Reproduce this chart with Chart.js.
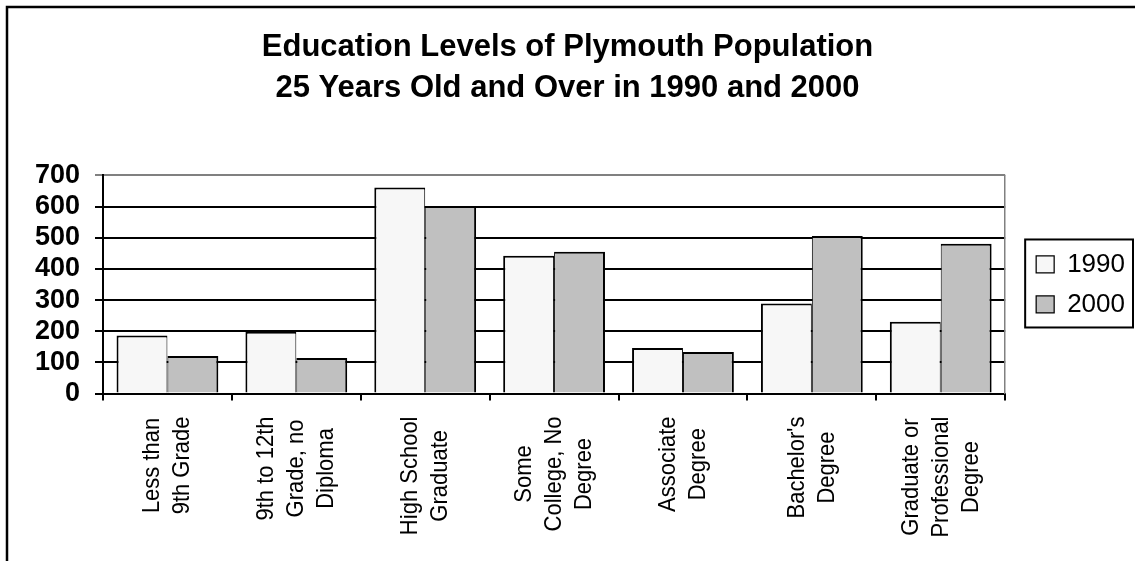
<!DOCTYPE html>
<html lang="en">
<head>
    <meta charset="UTF-8">
    <title>Education Levels of Plymouth Population</title>
    <script src="https://cdn.jsdelivr.net/npm/chart.js"></script>
    <style>
        body { margin: 0; background: #fff; }
        canvas { display: block; }
    </style>
</head>
<body>
    <canvas id="eduChart" width="1135" height="561"></canvas>

    <script>
        // values
        let categories = [
            ["Less than", "9th Grade"],
            ["9th to 12th", "Grade, no", "Diploma"],
            ["High School", "Graduate"],
            ["Some", "College, No", "Degree"],
            ["Associate", "Degree"],
            ["Bachelor's", "Degree"],
            ["Graduate or", "Professional", "Degree"]
        ];
        let pop1990 = [186, 198, 661, 442, 146, 289, 230];
        let pop2000 = [120, 114, 602, 455, 133, 506, 481];
        let seriesNames = ["1990", "2000"];
        let titleLines = ["Education Levels of Plymouth Population", "25 Years Old and Over in 1990 and 2000"];

        const FONT = "'Liberation Sans', Arial, sans-serif";

        // outer frame (left + top edge only, like the original)
        const framePlugin = {
            id: "frame",
            afterDraw(chart) {
                let ctx = chart.ctx;
                ctx.save();
                ctx.strokeStyle = "#000";
                ctx.lineWidth = 2.5;
                ctx.beginPath();
                ctx.moveTo(7, chart.height + 5);
                ctx.lineTo(7, 7);
                ctx.lineTo(chart.width + 5, 7);
                ctx.stroke();
                ctx.restore();
            }
        };

        // box round the legend
        const legendBoxPlugin = {
            id: "legendBox",
            afterDraw(chart) {
                let boxes = chart.legend.legendHitBoxes;
                if (!boxes || !boxes.length) return;
                let left = Math.min(...boxes.map(b => b.left)) - 11;
                let top = Math.min(...boxes.map(b => b.top)) - 12;
                let right = Math.min(Math.max(...boxes.map(b => b.left + b.width)) + 8, chart.width - 2);
                let bottom = Math.max(...boxes.map(b => b.top + b.height)) + 10;
                let ctx = chart.ctx;
                ctx.save();
                ctx.strokeStyle = "#000";
                ctx.lineWidth = 2;
                ctx.strokeRect(left, top, right - left, bottom - top);
                ctx.restore();
            }
        };

        // category labels: rotated, lines centred on each other
        const catLabelPlugin = {
            id: "catLabels",
            afterDraw(chart) {
                let xs = chart.scales.x;
                let ctx = chart.ctx;
                ctx.save();
                ctx.font = "22px " + FONT;
                ctx.fillStyle = "#000";
                ctx.textAlign = "center";
                ctx.textBaseline = "middle";
                chart.data.labels.forEach((lines, i) => {
                    let x = xs.getPixelForValue(i);
                    let maxW = Math.max(...lines.map(l => ctx.measureText(l).width));
                    let cy = xs.top + 23 + maxW / 2;
                    lines.forEach((line, j) => {
                        let off = (j - (lines.length - 1) / 2) * 30;
                        ctx.save();
                        ctx.translate(x + off, cy);
                        ctx.rotate(-Math.PI / 2);
                        ctx.scale(1, 1.12);
                        ctx.fillText(line, 0, 0);
                        ctx.restore();
                    });
                });
                ctx.restore();
            }
        };

        let ctx = document.getElementById("eduChart").getContext("2d");
        window.eduChart = new Chart(ctx, {
            type: "bar",
            data: {
                labels: categories,
                datasets: [{
                    label: seriesNames[0],
                    data: pop1990,
                    backgroundColor: "#f7f7f7",
                    borderColor: "#000",
                    borderWidth: { top: 2, left: 2, right: 1, bottom: 0 },
                    borderSkipped: false
                }, {
                    label: seriesNames[1],
                    data: pop2000,
                    backgroundColor: "#c0c0c0",
                    borderColor: "#000",
                    borderWidth: { top: 2, left: 1, right: 2, bottom: 0 },
                    borderSkipped: false
                }]
            },
            options: {
                responsive: false,
                animation: false,
                devicePixelRatio: 1,
                categoryPercentage: 0.79,
                barPercentage: 1.0,
                layout: { padding: 0 },
                plugins: {
                    title: {
                        display: true,
                        text: titleLines,
                        color: "#000",
                        font: { family: FONT, size: 31, weight: "bold", lineHeight: 1.33 },
                        padding: { top: 27, bottom: 66 }
                    },
                    legend: {
                        position: "right",
                        fullSize: false,
                        labels: {
                            color: "#000",
                            font: { family: FONT, size: 26 },
                            boxWidth: 18,
                            boxHeight: 17,
                            padding: 14
                        }
                    },
                    tooltip: { enabled: false }
                },
                scales: {
                    x: {
                        offset: true,
                        grid: {
                            display: true,
                            offset: true,
                            drawOnChartArea: false,
                            drawTicks: true,
                            tickLength: 7,
                            color: "#000",
                            lineWidth: 2
                        },
                        border: { display: true, color: "#000", width: 2 },
                        ticks: { display: false },
                        afterFit(scale) { scale.height = 167.5; }
                    },
                    y: {
                        min: 0,
                        max: 700,
                        ticks: {
                            stepSize: 100,
                            autoSkip: false,
                            color: "#000",
                            padding: 15,
                            font: { family: FONT, size: 27, weight: "bold" }
                        },
                        grid: {
                            color: c => (c.tick && c.tick.value === 700 ? "#808080" : "#000"),
                            lineWidth: 2,
                            tickLength: 8
                        },
                        border: { display: true, color: "#000", width: 2 },
                        afterFit(scale) { scale.width = 103; }
                    },
                    y2: {
                        position: "right",
                        min: 0,
                        max: 700,
                        ticks: { display: false },
                        grid: { display: false, drawTicks: false },
                        border: { display: true, color: "#808080", width: 1.5 },
                        afterFit(scale) { scale.width = 17; }
                    }
                }
            },
            plugins: [framePlugin, legendBoxPlugin, catLabelPlugin]
        });
    </script>
</body>
</html>
